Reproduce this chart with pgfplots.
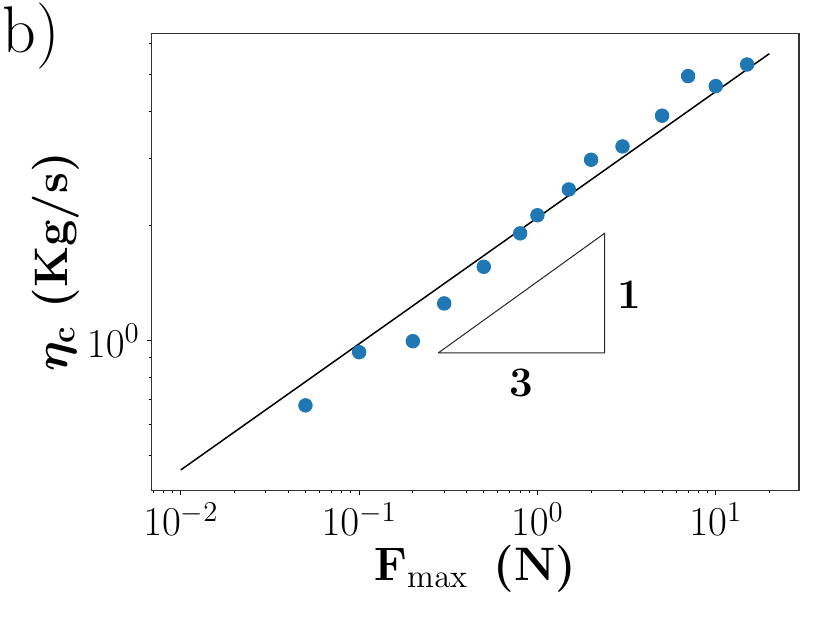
\RequirePackage{fix-cm}
\documentclass[border=0pt]{standalone}
\usepackage{bm}
\usepackage{pgfplots}
\pgfplotsset{compat=1.18}
\definecolor{mplblue}{HTML}{1F77B4}
\begin{document}
\begin{tikzpicture}
\useasboundingbox (-75.75pt,-67.65pt) rectangle (339.25pt,245.35pt);
\begin{axis}[
  scale only axis, width=323.75pt, height=228.7pt,
  xmode=log, ymode=log,
  xmin=0.006846, xmax=29.31, ymin=0.403, ymax=6.40,
  xtick={0.01,0.1,1,10},
  ytick={1},
  minor xtick={0.007,0.008,0.009,0.02,0.03,0.04,0.05,0.06,0.07,0.08,0.09,0.2,0.3,0.4,0.5,0.6,0.7,0.8,0.9,2,3,4,5,6,7,8,9,20},
  minor ytick={0.5,0.6,0.7,0.8,0.9,2,3,4,5,6},
  tick align=outside,
  xtick pos=lower, ytick pos=left,
  major tick length=2.4pt, minor tick length=1.4pt,
  every tick/.style={black, line width=0.5pt},
  axis line style={black!80, line width=0.7pt},
  tick label style={font=\fontsize{20.5}{22}\selectfont},
  xlabel={$\mathbf{F}_{\mathrm{max}}$\hspace{0.55em}(N)},
  ylabel={$\bm{\eta}_{\mathbf{c}}$ (Kg/s)},
  label style={font=\bfseries\fontsize{23.5}{27}\selectfont},
  xlabel style={at={(axis description cs:0.5,0)}, anchor=center, yshift=-39pt},
  ylabel style={at={(axis description cs:0,0.5)}, anchor=center, yshift=48pt},
  clip=false,
]
\addplot[black, line width=0.75pt] coordinates {(0.01,0.457) (20,5.66)};
\addplot[black!85, line width=0.5pt] coordinates {(0.278,0.927) (2.38,0.927) (2.38,1.91) (0.278,0.927)};
\addplot[only marks, mark=*, mark size=3.4pt, mplblue, mark options={draw=mplblue, fill=mplblue}] coordinates {
 (0.05,0.675) (0.1,0.931) (0.2,0.995) (0.3,1.25) (0.5,1.56) (0.8,1.91) (1,2.13)
 (1.5,2.49) (2,2.98) (3,3.23) (5,3.89) (7,4.94) (10,4.65) (15,5.30)
};
\node[font=\bfseries\fontsize{21}{24}\selectfont] at (axis cs:3.27,1.32) {1};
\node[font=\bfseries\fontsize{21}{24}\selectfont] at (axis cs:0.81,0.774) {3};
\end{axis}
\node[anchor=base west, inner sep=0pt, font=\fontsize{33}{36}\selectfont] at (-74.5pt,219.2pt) {b)};
\end{tikzpicture}
\end{document}
